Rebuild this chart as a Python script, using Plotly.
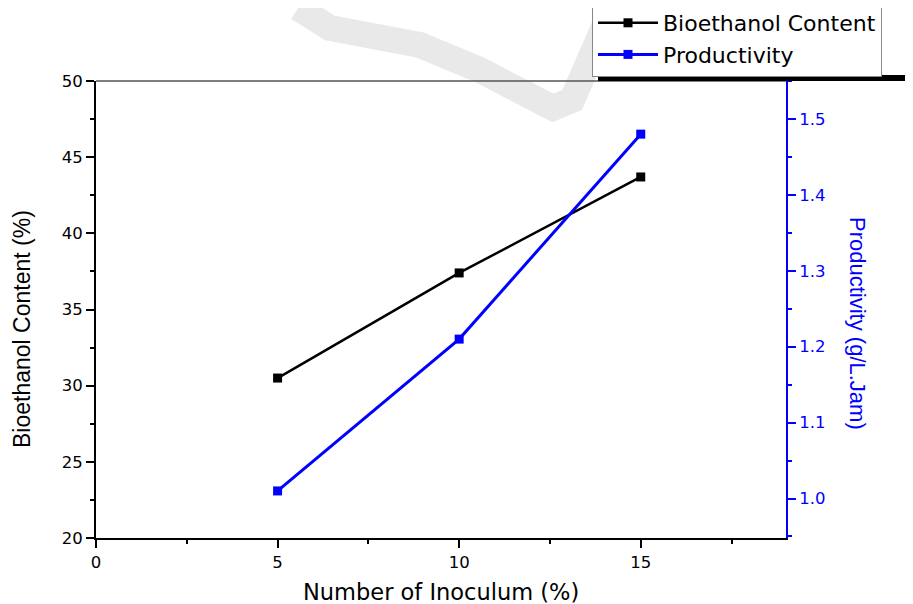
import plotly.graph_objects as go

# Data
inoculum = [5, 10, 15]
bioethanol = [30.5, 37.4, 43.7]
productivity = [1.01, 1.21, 1.48]

FONT = "DejaVu Sans, Liberation Sans, Arial, sans-serif"
FONT_R = "Liberation Sans, Arial, sans-serif"

# plot area in window pixels; the page body adds an 8px offset
OFF = 8
L, R, T, B = 96, 786, 81, 538
W, H = 913, 604

def px(x):
    return (x - L) / (R - L)

def py(y):
    return (B - y) / (B - T)

fig = go.Figure()

fig.add_trace(go.Scatter(
    x=inoculum, y=bioethanol, name="Bioethanol Content",
    mode="lines+markers",
    line=dict(color="black", width=2.5),
    marker=dict(symbol="square", size=9, color="black"),
))
fig.add_trace(go.Scatter(
    x=inoculum, y=productivity, name="Productivity",
    mode="lines+markers", yaxis="y2",
    line=dict(color="#0000ff", width=3),
    marker=dict(symbol="square", size=9, color="#0000ff"),
))

# watermark stroke
pts = [(298, 8), (330, 28), (420, 45), (480, 70), (553, 108), (572, 100), (618, -5)]
path = "M " + " L ".join(f"{px(x):.4f},{py(y):.4f}" for x, y in pts)
shapes = [
    dict(type="path", xref="paper", yref="paper", path=path,
         line=dict(color="rgba(200,200,200,0.4)", width=26), layer="below"),
    # top frame line
    dict(type="line", xref="paper", yref="paper", x0=0, x1=1, y0=1, y1=1,
         line=dict(color="#555555", width=1.5)),
    # legend shadow
    dict(type="rect", xref="paper", yref="paper",
         x0=px(598), x1=px(930), y0=py(81), y1=py(75),
         fillcolor="black", line=dict(width=0)),
]

fig.update_layout(
    width=W, height=H,
    margin=dict(l=L - OFF, r=W - R + OFF, t=T - OFF, b=H - B + OFF, autoexpand=False),
    paper_bgcolor="white", plot_bgcolor="rgba(0,0,0,0)",
    font=dict(family=FONT, color="black"),
    showlegend=True,
    legend=dict(
        x=px(592), y=py(1), xanchor="left", yanchor="top",
        bgcolor="white", bordercolor="#888888", borderwidth=1,
        font=dict(size=22, family=FONT, color="black"),
        tracegroupgap=0, itemwidth=60,
    ),
    xaxis=dict(
        range=[0, 19], tickvals=[0, 5, 10, 15], ticktext=["0", "5", "10", "15"],
        ticks="outside", ticklen=8, tickwidth=2, tickcolor="black",
        minor=dict(tickvals=[2.5, 7.5, 12.5, 17.5], ticks="outside", ticklen=4, tickwidth=2, tickcolor="black"),
        showline=True, linecolor="black", linewidth=2,
        showgrid=False, zeroline=False,
        tickfont=dict(size=16.5, family=FONT, color="black"),
    ),
    yaxis=dict(
        range=[20, 50], dtick=5, tick0=20,
        ticks="outside", ticklen=8, tickwidth=2, tickcolor="black",
        minor=dict(dtick=2.5, ticks="outside", ticklen=4, tickwidth=2, tickcolor="black"),
        showline=True, linecolor="black", linewidth=2,
        showgrid=False, zeroline=False,
        tickfont=dict(size=16.5, family=FONT, color="black"),
    ),
    yaxis2=dict(
        overlaying="y", side="right",
        range=[0.948, 1.55], tick0=1.0, dtick=0.1, tickformat=".1f",
        ticks="outside", ticklen=8, tickwidth=2, tickcolor="#0000ff",
        minor=dict(dtick=0.05, ticks="outside", ticklen=4, tickwidth=2, tickcolor="#0000ff"),
        showline=True, linecolor="#0000ff", linewidth=2,
        showgrid=False, zeroline=False,
        tickfont=dict(size=16.5, family=FONT, color="#0000ff"),
    ),
    shapes=shapes,
    annotations=[
        dict(text="Bioethanol Content (%)", xref="paper", yref="paper",
             x=px(22), y=py(329), xanchor="center", yanchor="middle",
             textangle=-90, showarrow=False,
             font=dict(size=23, family=FONT_R, color="black")),
        dict(text="Number of Inoculum (%)", xref="paper", yref="paper",
             x=px(441), y=py(592), xanchor="center", yanchor="middle",
             showarrow=False,
             font=dict(size=22.5, family=FONT, color="black")),
        dict(text="Productivity (g/L.Jam)", xref="paper", yref="paper",
             x=px(858), y=py(323), xanchor="center", yanchor="middle",
             textangle=90, showarrow=False,
             font=dict(size=22, family=FONT_R, color="#0000ff")),
    ],
)

fig.write_html("out.html")
